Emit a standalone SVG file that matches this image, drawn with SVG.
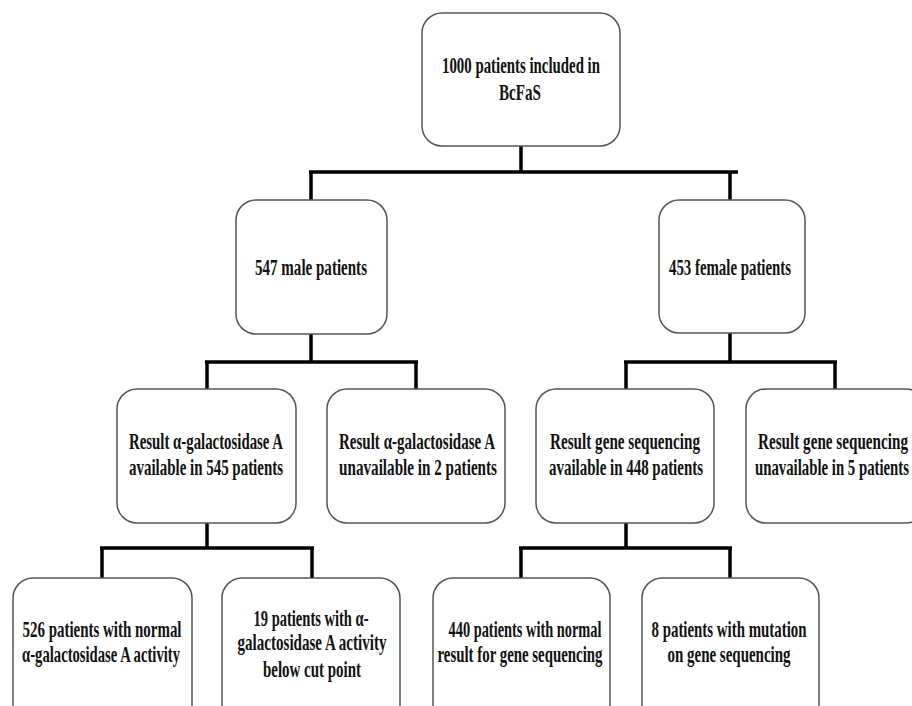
<svg xmlns="http://www.w3.org/2000/svg" width="912" height="706" viewBox="0 0 912 706">
<style>
.box{fill:#fff;stroke:#555;stroke-width:1.5}
.t{font-family:"Liberation Serif","Times New Roman",serif;font-weight:bold;font-size:24px;fill:#111;text-anchor:middle}
.c{stroke:#000;stroke-width:3.5;fill:none}
</style>
<rect width="912" height="706" fill="#fff"/>
<g id="connectors">
<path class="c" d="M521,146V172M309,172H738M311,172V200M730,172V200"/>
<path class="c" d="M311,334V362M205,362H418M207,362V389M416,362V389"/>
<path class="c" d="M730,333V362M624,362H837M626,362V389M835,362V389"/>
<path class="c" d="M207,523V548M100,548H314M102,548V578M312,548V578"/>
<path class="c" d="M626,523V548M519,548H732M521,548V578M730,548V578"/>
</g>
<g id="n_total"><rect class="box" x="422" y="13" width="198" height="133" rx="20"/>
<text class="t" transform="translate(521,73) scale(0.62,1)" textLength="254.8" lengthAdjust="spacingAndGlyphs">1000 patients included in</text>
<text class="t" transform="translate(520,100) scale(0.62,1)" textLength="67.7" lengthAdjust="spacingAndGlyphs">BcFaS</text></g>
<g id="n_male"><rect class="box" x="236" y="200" width="151" height="134" rx="20"/>
<text class="t" transform="translate(311,275) scale(0.62,1)" textLength="180.6" lengthAdjust="spacingAndGlyphs">547 male patients</text></g>
<g id="n_female"><rect class="box" x="659" y="200" width="146" height="133" rx="20"/>
<text class="t" transform="translate(730,275) scale(0.62,1)" textLength="196.8" lengthAdjust="spacingAndGlyphs">453 female patients</text></g>
<g id="n_m_avail"><rect class="box" x="117" y="389" width="179" height="134" rx="20"/>
<text class="t" transform="translate(206,449) scale(0.62,1)" textLength="248.4" lengthAdjust="spacingAndGlyphs">Result α-galactosidase A</text>
<text class="t" transform="translate(206,475) scale(0.62,1)" textLength="248.4" lengthAdjust="spacingAndGlyphs">available in 545 patients</text></g>
<g id="n_m_unavail"><rect class="box" x="327" y="389" width="178" height="134" rx="20"/>
<text class="t" transform="translate(417,449) scale(0.62,1)" textLength="251.6" lengthAdjust="spacingAndGlyphs">Result α-galactosidase A</text>
<text class="t" transform="translate(418,475) scale(0.62,1)" textLength="254.8" lengthAdjust="spacingAndGlyphs">unavailable in 2 patients</text></g>
<g id="n_f_avail"><rect class="box" x="536" y="389" width="178" height="134" rx="20"/>
<text class="t" transform="translate(625,449) scale(0.62,1)" textLength="241.9" lengthAdjust="spacingAndGlyphs">Result gene sequencing</text>
<text class="t" transform="translate(626,475) scale(0.62,1)" textLength="248.4" lengthAdjust="spacingAndGlyphs">available in 448 patients</text></g>
<g id="n_f_unavail"><rect class="box" x="746" y="389" width="180" height="134" rx="20"/>
<text class="t" transform="translate(833,449) scale(0.62,1)" textLength="241.9" lengthAdjust="spacingAndGlyphs">Result gene sequencing</text>
<text class="t" transform="translate(832,475) scale(0.62,1)" textLength="248.4" lengthAdjust="spacingAndGlyphs">unavailable in 5 patients</text></g>
<g id="n_m_normal"><rect class="box" x="13" y="578" width="179" height="150" rx="20"/>
<text class="t" transform="translate(102,637) scale(0.62,1)" textLength="256.5" lengthAdjust="spacingAndGlyphs">526 patients with normal</text>
<text class="t" transform="translate(101,662) scale(0.62,1)" textLength="254.8" lengthAdjust="spacingAndGlyphs">α-galactosidase A activity</text></g>
<g id="n_m_low"><rect class="box" x="222" y="578" width="178" height="150" rx="20"/>
<text class="t" transform="translate(311,626) scale(0.62,1)" textLength="185.5" lengthAdjust="spacingAndGlyphs">19 patients with α-</text>
<text class="t" transform="translate(312,650) scale(0.62,1)" textLength="240.3" lengthAdjust="spacingAndGlyphs">galactosidase A activity</text>
<text class="t" transform="translate(312,677) scale(0.62,1)" textLength="158.1" lengthAdjust="spacingAndGlyphs">below cut point</text></g>
<g id="n_f_normal"><rect class="box" x="433" y="578" width="177" height="150" rx="20"/>
<text class="t" transform="translate(525,637) scale(0.62,1)" textLength="246.8" lengthAdjust="spacingAndGlyphs">440 patients with normal</text>
<text class="t" transform="translate(520,662) scale(0.62,1)" textLength="266.1" lengthAdjust="spacingAndGlyphs">result for gene sequencing</text></g>
<g id="n_f_mut"><rect class="box" x="642" y="578" width="177" height="150" rx="20"/>
<text class="t" transform="translate(729,637) scale(0.62,1)" textLength="250" lengthAdjust="spacingAndGlyphs">8 patients with mutation</text>
<text class="t" transform="translate(729,662) scale(0.62,1)" textLength="198.4" lengthAdjust="spacingAndGlyphs">on gene sequencing</text></g>
</svg>
